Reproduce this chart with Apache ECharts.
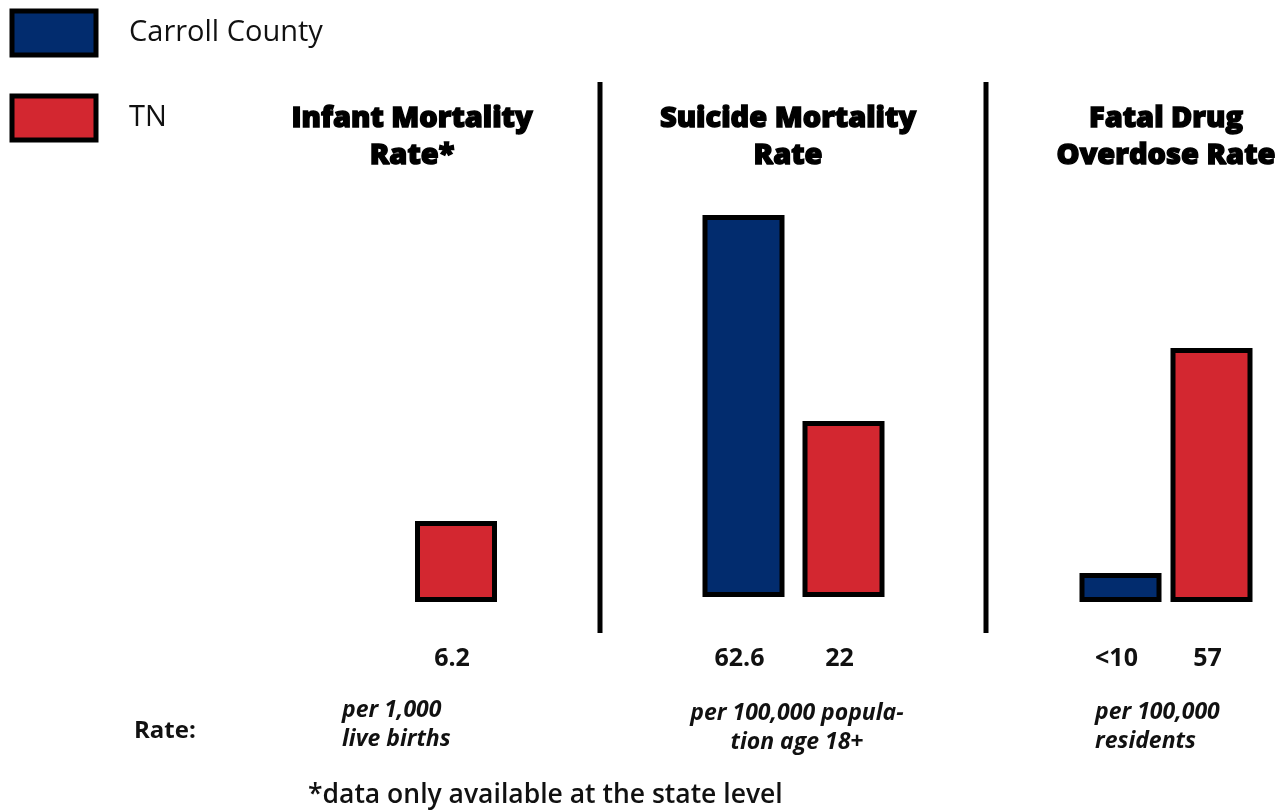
<!DOCTYPE html>
<html><head><meta charset="utf-8">
<script src="https://cdn.jsdelivr.net/npm/echarts@6/dist/echarts.min.js"></script>
<style>html,body{margin:0;padding:0;background:#fff}#c{width:1287px;height:812px}</style>
</head><body><div id="c"></div>
<script>
// ---- data ----
const seriesNames = ['Carroll County', 'TN'];
const panelTitles = ['Infant Mortality\nRate*', 'Suicide Mortality\nRate', 'Fatal Drug\nOverdose Rate'];
// value text shown under each bar: [Carroll County, TN]
const valueLabels = [[null, '6.2'], ['62.6', '22'], ['<10', '57']];
// bar lengths as drawn in the picture (relative units; the graphic is not to scale)
const barLengths = [[null, 81], [382, 176], [29, 254]];
const unitLabels = ['per 1,000\nlive births', 'per 100,000 popula-\ntion age 18+', 'per 100,000\nresidents'];
const rateLabel = 'Rate:';
const footnote = '*data only available at the state level';

// ---- style / layout ----
const colors = ['#022c6e', '#d32730'];
const grids = [
  {left: 306, top: 102, width: 200, height: 500},
  {left: 693.5, top: 97, width: 200, height: 500},
  {left: 1075, top: 102, width: 182, height: 500}
];
const titleX = [412, 788, 1166];
const labelDist = [42, 47, 42];
const unitPos = [
  {x: 342, y: 695.5, align: 'left'},
  {x: 797, y: 698.5, align: 'center'},
  {x: 1095, y: 697.5, align: 'left'}
];
const sepX = [600, 986];

const chart = echarts.init(document.getElementById('c'), null, {renderer: 'canvas'});

const series = [];
grids.forEach((g, i) => {
  seriesNames.forEach((name, s) => {
    series.push({
      type: 'bar', name: name, xAxisIndex: i, yAxisIndex: i, stack: 'p' + i,
      barWidth: 82,
      data: barLengths[i].map((v, k) => (k === s && v != null) ? v : '-'),
      itemStyle: {color: colors[s], borderColor: '#000', borderWidth: 5},
      label: {
        show: true, position: 'bottom', distance: labelDist[i], offset: [-4, 0],
        formatter: p => valueLabels[i][p.dataIndex] || '',
        fontFamily: 'Open Sans', fontWeight: 'bold', fontSize: 25, lineHeight: 30, color: '#111'
      },
      emphasis: {disabled: true}
    });
  });
});

const graphic = [];
panelTitles.forEach((t, i) => {
  graphic.push({type: 'text', x: titleX[i], y: 100, style: {
    text: t, align: 'center', verticalAlign: 'top', fontFamily: 'Open Sans', fontWeight: 800,
    fontSize: 29, lineHeight: 37, fill: '#000', stroke: '#000', lineWidth: 1.4}});
});
sepX.forEach(x => graphic.push({type: 'line', shape: {x1: x, y1: 82, x2: x, y2: 633},
  style: {stroke: '#000', lineWidth: 5}}));
unitLabels.forEach((t, i) => {
  graphic.push({type: 'text', x: unitPos[i].x, y: unitPos[i].y, style: {
    text: t, align: unitPos[i].align, verticalAlign: 'top', fontFamily: 'Open Sans', fontWeight: 'bold',
    fontStyle: 'italic', fontSize: 23, lineHeight: 29, fill: '#111'}});
});
graphic.push({type: 'text', x: 134, y: 731, style: {text: rateLabel, verticalAlign: 'middle',
  fontFamily: 'Open Sans', fontWeight: 'bold', fontSize: 24, fill: '#111'}});
graphic.push({type: 'text', x: 308, y: 795, style: {text: footnote, verticalAlign: 'middle',
  fontFamily: 'Open Sans', fontWeight: 600, fontSize: 26.5, fill: '#111'}});

chart.setOption({
  animation: false,
  backgroundColor: '#fff',
  legend: {
    data: seriesNames, orient: 'vertical', left: 9.5, top: 8.5, padding: 0, icon: 'rect',
    itemWidth: 84, itemHeight: 44, itemGap: 36, selectedMode: false,
    itemStyle: {borderColor: '#000', borderWidth: 5},
    textStyle: {fontFamily: 'Open Sans', fontSize: 29, color: '#111', padding: [0, 0, 0, 28]}
  },
  grid: grids.map(g => Object.assign({containLabel: false}, g)),
  xAxis: grids.map((g, i) => ({type: 'category', gridIndex: i, data: seriesNames, show: false})),
  yAxis: grids.map((g, i) => ({type: 'value', gridIndex: i, min: 0, max: 500, show: false})),
  series: series,
  graphic: graphic
});
</script>
</body></html>
